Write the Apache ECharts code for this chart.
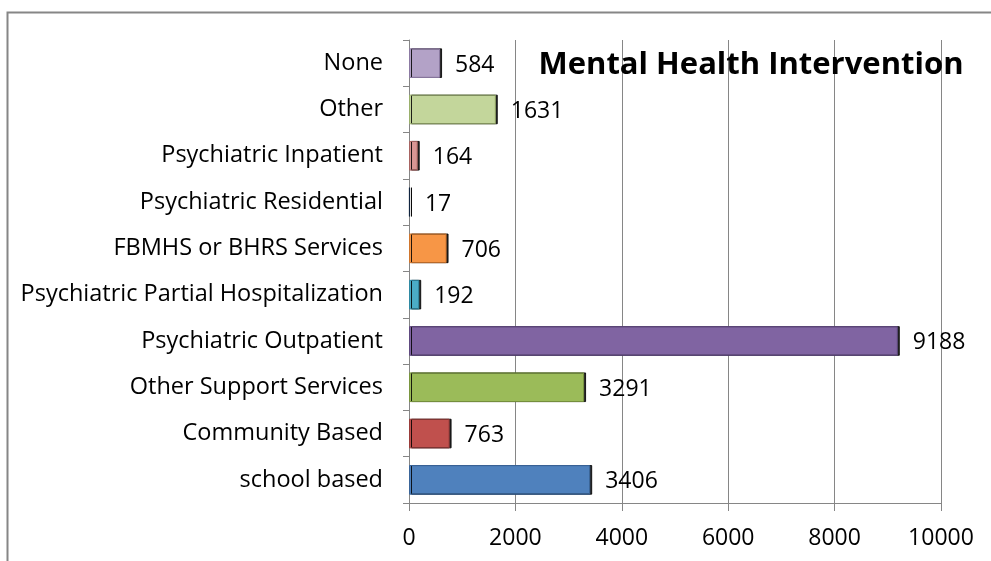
<!DOCTYPE html>
<html>
<head>
<meta charset="utf-8">
<script src="https://cdn.jsdelivr.net/npm/echarts@6/dist/echarts.min.js"></script>
<style>
html,body{margin:0;padding:0;background:#fff;}
#chart{width:991px;height:561px;}
</style>
</head>
<body>
<div id="chart"></div>
<script>
var categories = ["school based","Community Based","Other Support Services","Psychiatric Outpatient","Psychiatric Partial Hospitalization","FBMHS or BHRS Services","Psychiatric Residential","Psychiatric Inpatient","Other","None"];
var values = [3406, 763, 3291, 9188, 192, 706, 17, 164, 1631, 584];
var barColors = ["#4F81BD","#C0504D","#9BBB59","#8064A2","#4BACC6","#F79646","#1F497D","#D99694","#C3D69B","#B3A2C7"];
var borderColors = ["#3A6599","#9A3C3A","#7A9640","#604A80","#2F8AA3","#D0762E","#10253F","#A86462","#9AB06C","#8C7AA3"];
var titleText = "Mental Health Intervention";

var chart = echarts.init(document.getElementById('chart'));
var data = values.map(function(v,i){
  return {value:v, itemStyle:{color:barColors[i], borderColor:borderColors[i]}};
});
var fam = 'Open Sans';
chart.setOption({
  animation:false,
  backgroundColor:'#fff',
  graphic:[{type:'rect', shape:{x:7.5,y:12.5,width:1100,height:700}, style:{fill:'none',stroke:'#868686',lineWidth:2}, silent:true}],
  title:{text:titleText, left:746, top:45, textAlign:'center',
    textStyle:{fontFamily:fam, fontWeight:'bold', fontSize:31, color:'#000'}},
  grid:{left:409, right:50, top:40, bottom:58},
  xAxis:{type:'value', min:0, max:10000, interval:2000,
    axisLine:{show:true, lineStyle:{color:'#868686', width:1}},
    axisTick:{show:true, length:8, lineStyle:{color:'#868686'}},
    axisLabel:{margin:24, fontFamily:fam, fontSize:23, color:'#000', formatter:function(v){return String(v);}},
    splitLine:{show:true, lineStyle:{color:'#868686', width:1}}},
  yAxis:{type:'category', data:categories,
    axisLine:{show:true, lineStyle:{color:'#868686', width:1}},
    axisTick:{show:true, length:6, lineStyle:{color:'#868686'}},
    axisLabel:{margin:26, fontFamily:fam, fontSize:23.5, color:'#000', padding:[5,0,0,0]}},
  series:[{type:'bar', data:data, barCategoryGap:'36%',
    itemStyle:{borderWidth:1, shadowColor:'rgba(0,0,0,0.85)', shadowOffsetX:2, shadowBlur:0},
    label:{show:true, position:'right', distance:15, offset:[0,2], fontFamily:fam, fontSize:23, color:'#000'}}]
});
</script>
</body>
</html>
